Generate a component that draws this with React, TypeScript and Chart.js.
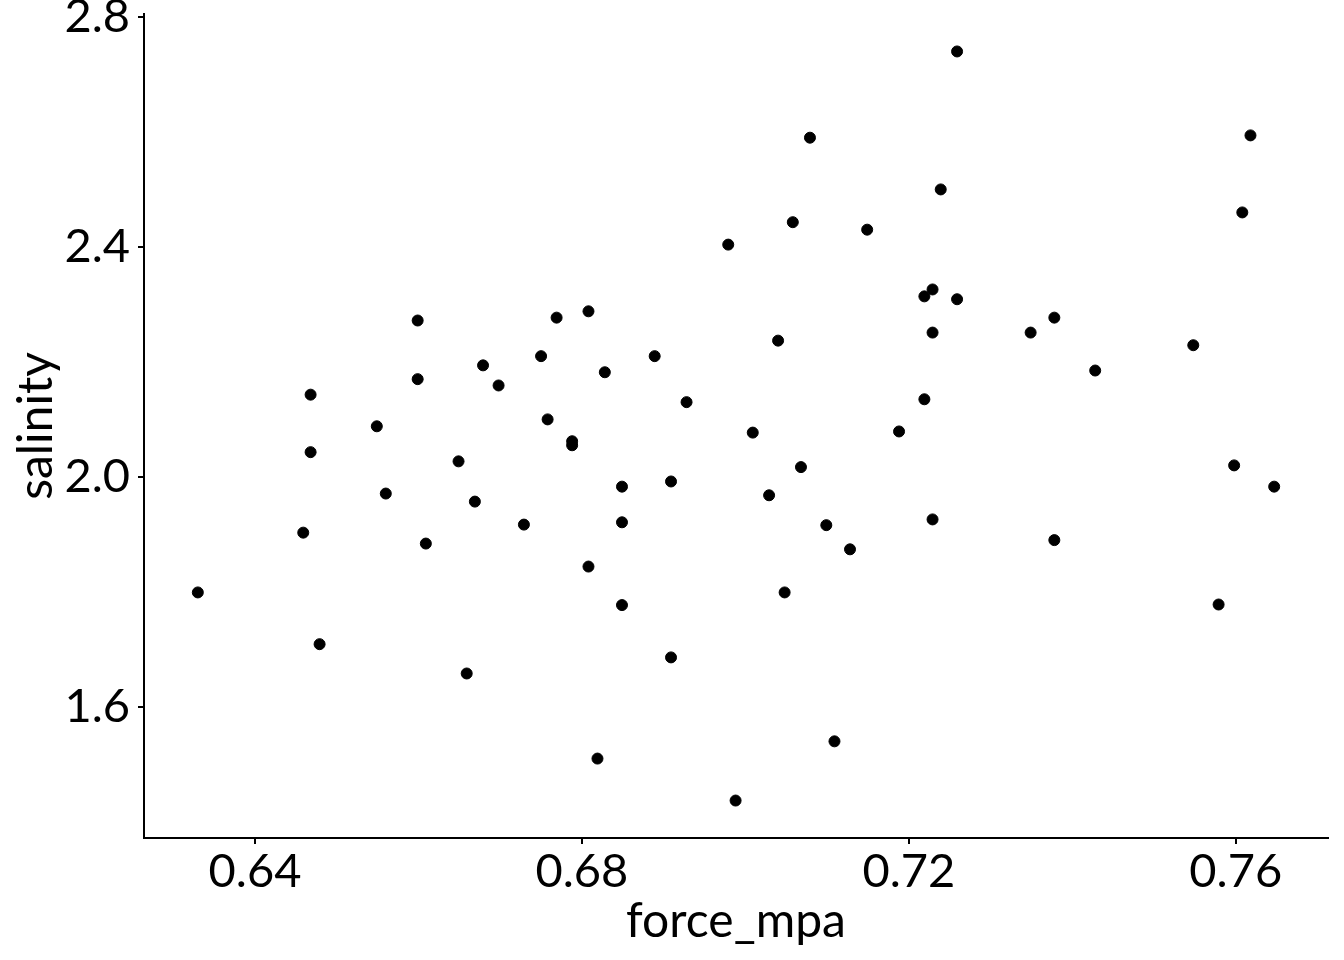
import React, { useEffect, useRef } from "react";
import { Chart, registerables } from "chart.js";

Chart.register(...registerables);

const forceMpa: number[] = [
  0.6330, 0.6459, 0.6468, 0.6468, 0.6479, 0.6549, 0.6560, 0.6599, 0.6599, 0.6609,
  0.6649, 0.6659, 0.6669, 0.6679, 0.6698, 0.6729, 0.6750, 0.6758, 0.6769, 0.6788,
  0.6788, 0.6808, 0.6808, 0.6819, 0.6828, 0.6849, 0.6849, 0.6849, 0.6889, 0.6909,
  0.6909, 0.6928, 0.6979, 0.6988, 0.7009, 0.7029, 0.7040, 0.7048, 0.7058, 0.7068,
  0.7079, 0.7099, 0.7109, 0.7128, 0.7149, 0.7188, 0.7219, 0.7219, 0.7229, 0.7229,
  0.7229, 0.7239, 0.7259, 0.7259, 0.7349, 0.7378, 0.7378, 0.7428, 0.7548, 0.7579,
  0.7598, 0.7608, 0.7618, 0.7647,
];

const salinity: number[] = [
  1.799, 1.903, 2.143, 2.043, 1.709, 2.088, 1.971, 2.272, 2.170, 1.884,
  2.027, 1.658, 1.957, 2.194, 2.159, 1.917, 2.210, 2.100, 2.277, 2.062,
  2.055, 2.288, 1.844, 1.510, 2.182, 1.983, 1.921, 1.777, 2.210, 1.992,
  1.686, 2.130, 2.404, 1.437, 2.077, 1.968, 2.237, 1.799, 2.443, 2.017,
  2.590, 1.916, 1.540, 1.874, 2.430, 2.079, 2.314, 2.135, 2.326, 2.251,
  1.926, 2.500, 2.740, 2.309, 2.251, 2.277, 1.890, 2.185, 2.229, 1.778,
  2.020, 2.460, 2.594, 1.983,
];

const xTicks: number[] = [0.64, 0.68, 0.72, 0.76];
const yTicks: number[] = [1.6, 2.0, 2.4, 2.8];

const xLabel = "force_mpa";
const yLabel = "salinity";

export default function App() {
  const canvasRef = useRef<HTMLCanvasElement | null>(null);

  useEffect(() => {
    document.body.style.margin = "0";
    const canvas = canvasRef.current;
    if (!canvas) return;
    const points = forceMpa.map((x, i) => ({ x, y: salinity[i] }));
    const xMinData = Math.min(...forceMpa);
    const xMaxData = Math.max(...forceMpa);
    const yMinData = Math.min(...salinity);
    const yMaxData = Math.max(...salinity);
    const xPad = (xMaxData - xMinData) * 0.05;
    const yPad = (yMaxData - yMinData) * 0.05;
    const font = "Lato";

    const chart = new Chart(canvas, {
      type: "scatter",
      data: {
        datasets: [
          {
            data: points,
            backgroundColor: "#000000",
            borderColor: "#000000",
            borderWidth: 1,
            pointRadius: 5.5,
            pointHoverRadius: 5.5,
          },
        ],
      },
      options: {
        animation: false,
        responsive: false,
        maintainAspectRatio: false,
        layout: { padding: { top: 14, right: 16, bottom: 0, left: 0 } },
        plugins: {
          legend: { display: false },
          tooltip: { enabled: false },
        },
        scales: {
          x: {
            type: "linear",
            min: xMinData - xPad,
            max: xMaxData + xPad,
            afterBuildTicks: (scale: any) => {
              scale.ticks = xTicks.map((v) => ({ value: v }));
            },
            afterFit: (scale: any) => {
              scale.height = 122;
              scale.paddingLeft = 0;
              scale.paddingRight = 0;
            },
            grid: {
              display: true,
              drawOnChartArea: false,
              drawTicks: true,
              tickLength: 6,
              color: "#000000",
              lineWidth: 2,
            },
            border: { display: true, color: "#000000", width: 2 },
            ticks: {
              color: "#000000",
              padding: 0,
              maxRotation: 0,
              font: { family: font, size: 47 },
              callback: (v: any) => Number(v).toFixed(2),
            },
            title: {
              display: true,
              text: xLabel,
              color: "#000000",
              font: { family: font, size: 48 },
              padding: { top: 0, bottom: 10 },
            },
          },
          y: {
            type: "linear",
            min: yMinData - yPad,
            max: yMaxData + yPad,
            afterBuildTicks: (scale: any) => {
              scale.ticks = yTicks.map((v) => ({ value: v }));
            },
            afterFit: (scale: any) => {
              scale.width = 144;
              scale.paddingTop = 0;
              scale.paddingBottom = 0;
            },
            grid: {
              display: true,
              drawOnChartArea: false,
              drawTicks: true,
              tickLength: 6,
              color: "#000000",
              lineWidth: 2,
            },
            border: { display: true, color: "#000000", width: 2 },
            ticks: {
              color: "#000000",
              padding: 8,
              font: { family: font, size: 47 },
              callback: (v: any) => Number(v).toFixed(1),
            },
            title: {
              display: true,
              text: yLabel,
              color: "#000000",
              font: { family: font, size: 48 },
              padding: { top: 8, bottom: 0 },
            },
          },
        },
      },
    });
    return () => chart.destroy();
  }, []);

  return (
    <div style={{ position: "fixed", left: 0, top: 0, width: 1344, height: 960, background: "#ffffff" }}>
      <canvas ref={canvasRef} width={1344} height={960} style={{ width: 1344, height: 960 }} />
    </div>
  );
}
